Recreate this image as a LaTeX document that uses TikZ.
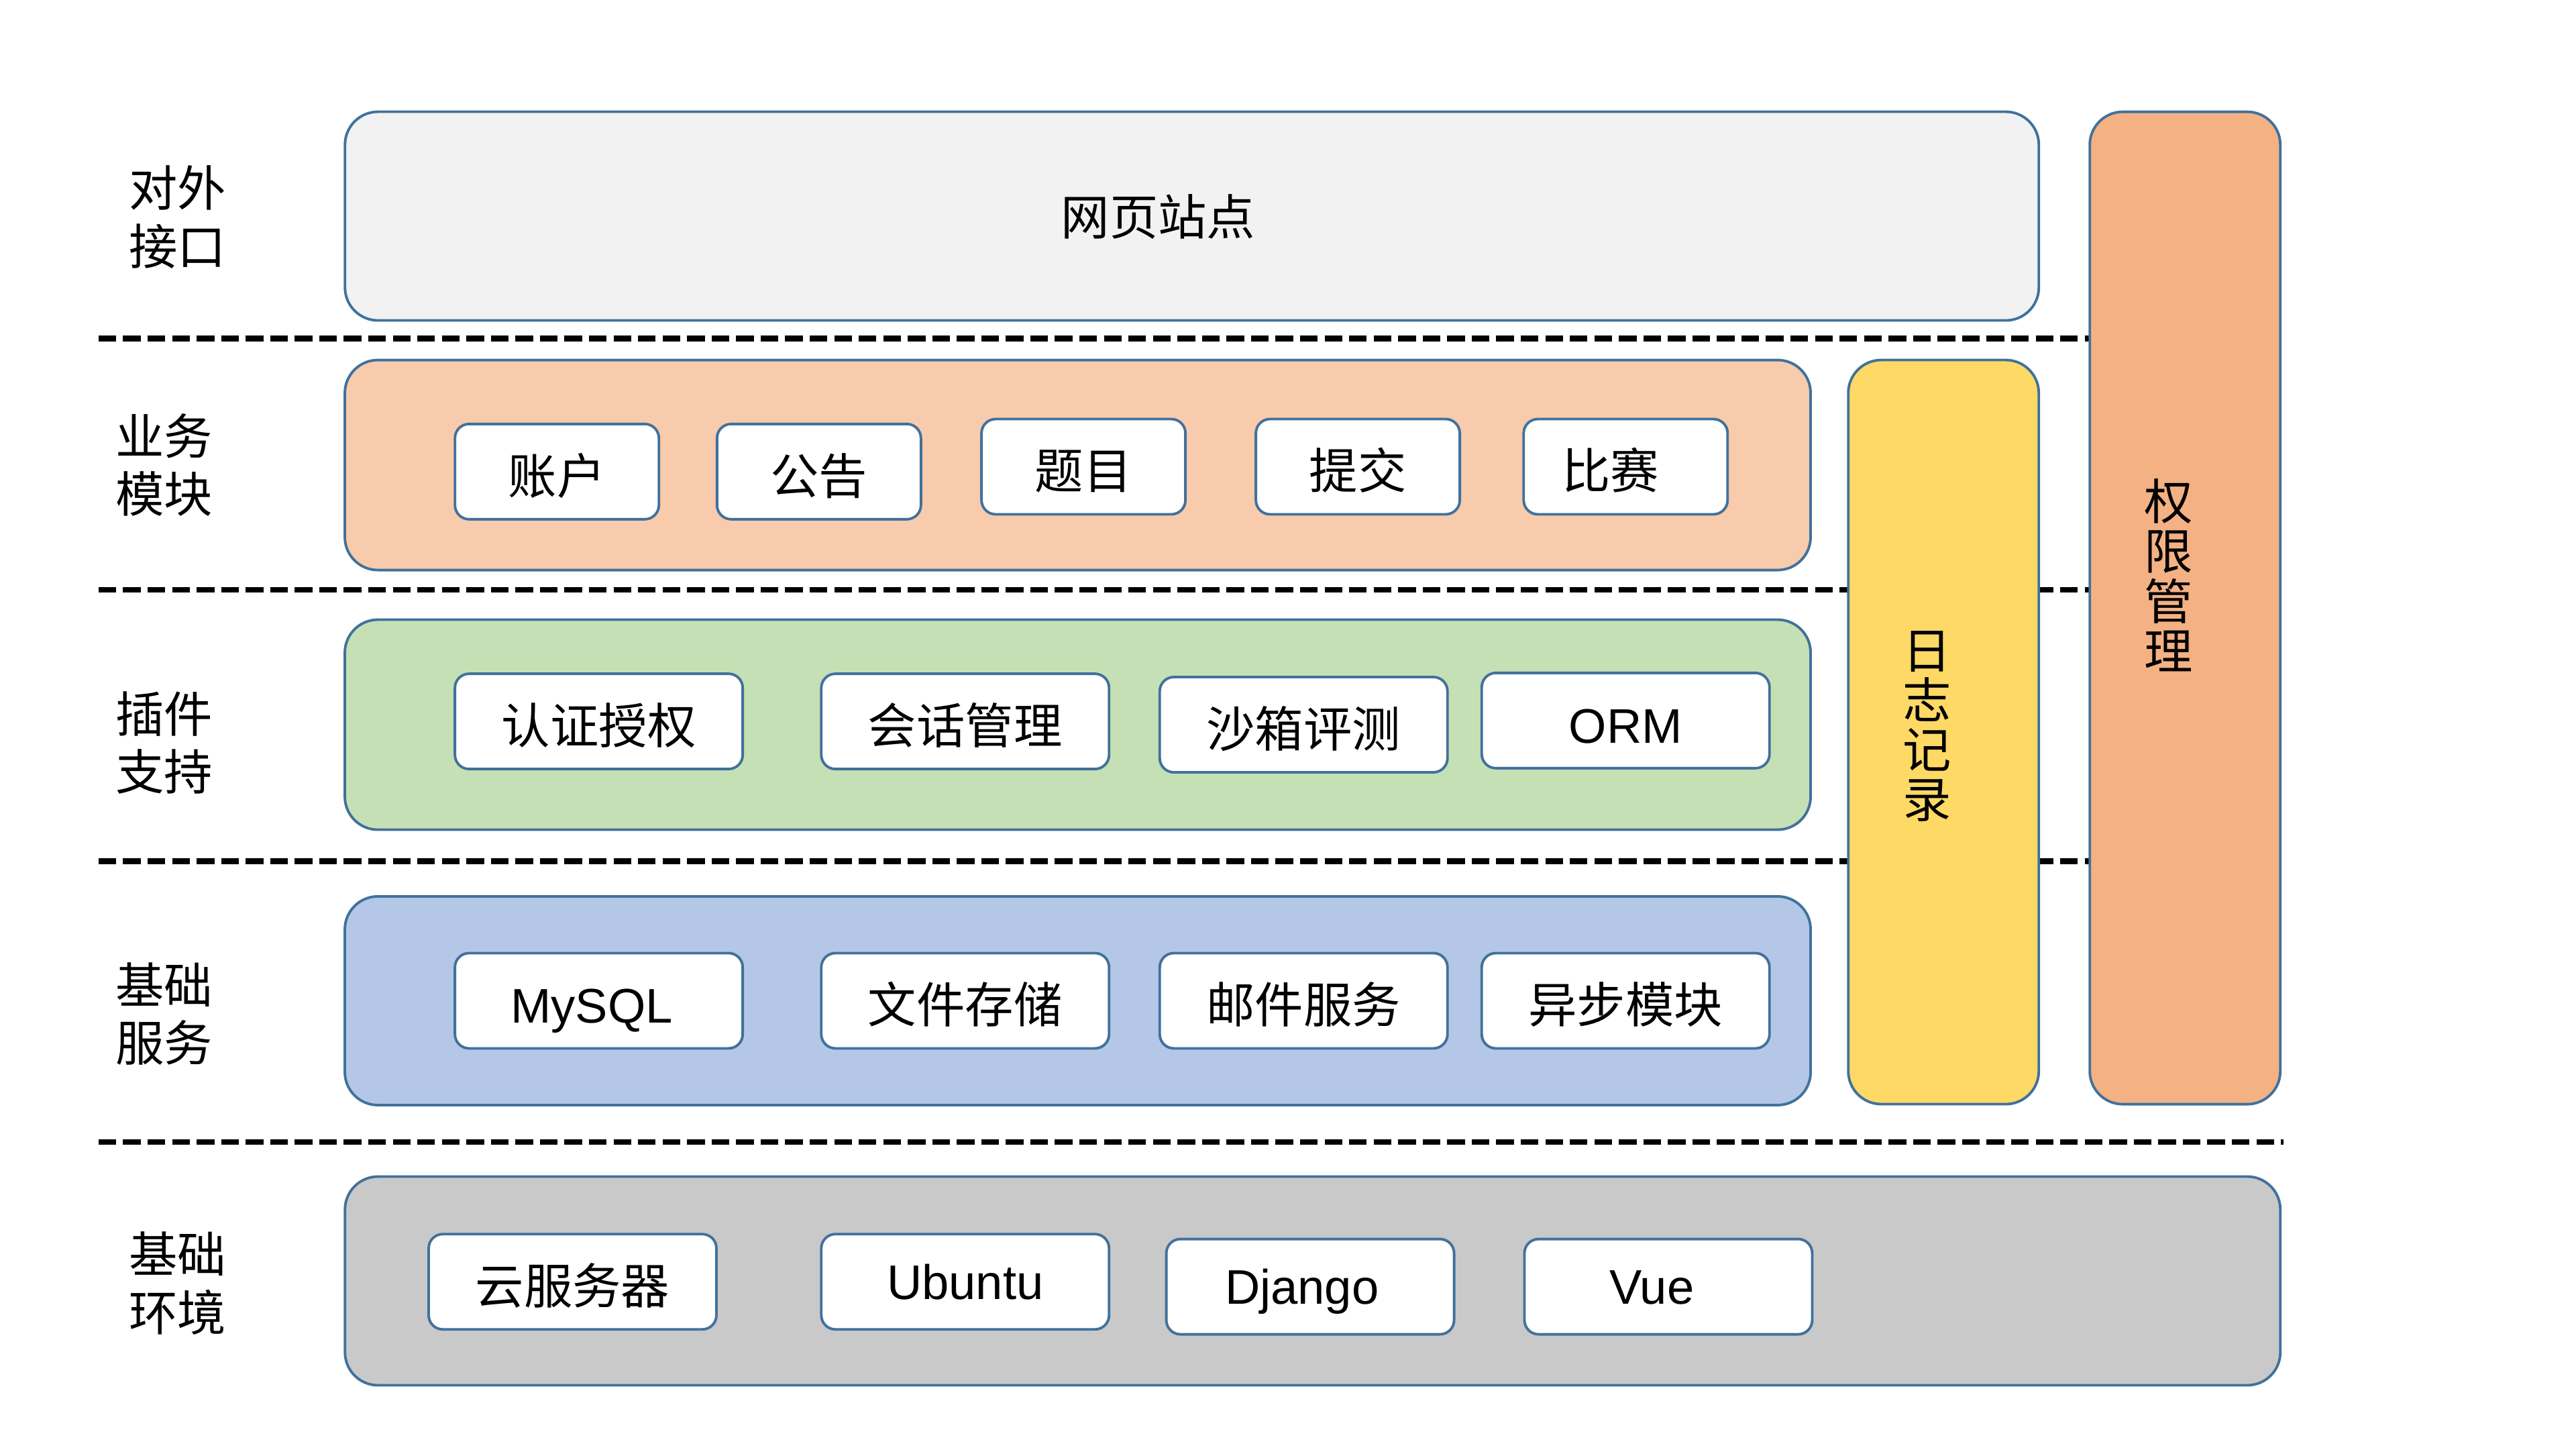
\documentclass[tikz,border=0pt]{standalone}
\usepackage{fontspec}
\setmainfont{Liberation Sans}
\newfontfamily\cjk{Noto Sans CJK SC}
\definecolor{edgeblue}{HTML}{41719C}
\definecolor{webgray}{HTML}{F2F2F2}
\definecolor{authorange}{HTML}{F4B183}
\definecolor{logyellow}{HTML}{FFD966}
\definecolor{bizpeach}{HTML}{F8CBAD}
\definecolor{pluggreen}{HTML}{C5E0B4}
\definecolor{svcblue}{HTML}{B4C7E7}
\definecolor{envgray}{HTML}{C9C9C9}
\begin{document}
\begin{tikzpicture}[x=0.02449cm, y=-0.02449cm,
  font=\fontsize{20.6}{24.7}\selectfont,
  sep/.style={line width=2.4pt, dash pattern=on 7.5pt off 2.9pt},
  layer/.style={draw=edgeblue, line width=1.1pt, rounded corners=14pt, inner sep=0pt},
  item/.style={draw=edgeblue, fill=white, line width=1.1pt, rounded corners=6pt, inner sep=0pt, minimum height=1.42cm, text height=19pt, text depth=0pt},
  shortitem/.style={item, minimum width=3.04cm},
  longitem/.style={item, minimum width=4.29cm},
  side/.style={align=center, font=\fontsize{20.6}{24.7}\selectfont\cjk}]
\useasboundingbox (0,0) rectangle (1568,882);
% separators
\draw[sep] (60,206) -- (1272,206);
\draw[sep] (60,359) -- (1272,359);
\draw[sep] (60,524) -- (1272,524);
\draw[sep] (60,695) -- (1390,695);
% left labels
\node[side] (lbl0) at (108,132){对外\\接口};
\node[side] (lbl1) at (100,283){业务\\模块};
\node[side] (lbl2) at (100,452){插件\\支持};
\node[side] (lbl3) at (100,617){基础\\服务};
\node[side] (lbl4) at (108,781){基础\\环境};
% layers
\node[layer, fill=webgray, minimum width=25.25cm, minimum height=3.11cm] (web) at (725.5,131.5){};
\node[side] (webtxt) at (705,132){网页站点};
\node[layer, fill=authorange, minimum width=2.84cm, minimum height=14.79cm] (auth) at (1330,370){};
\node[side, font=\fontsize{20.6}{21.2}\selectfont\cjk] (authtxt) at (1320,350){权\\限\\管\\理};
\node[layer, fill=logyellow, minimum width=2.84cm, minimum height=11.09cm] (log) at (1183,445.5){};
\node[side, font=\fontsize{20.6}{21}\selectfont\cjk] (logtxt) at (1173,442){日\\志\\记\\录};
\node[layer, fill=bizpeach, minimum width=21.85cm, minimum height=3.13cm] (biz) at (656,283){};
\node[layer, fill=pluggreen, minimum width=21.85cm, minimum height=3.13cm] (plug) at (656,441){};
\node[layer, fill=svcblue, minimum width=21.85cm, minimum height=3.11cm] (svc) at (656,609){};
\node[layer, fill=envgray, minimum width=28.85cm, minimum height=3.11cm] (env) at (799,779.5){};
% business modules
\node[shortitem] (biz0) at (339,287){\cjk 账户};
\node[shortitem] (biz1) at (498.5,287){\cjk 公告};
\node[shortitem] (biz2) at (659.5,284){\cjk 题目};
\node[shortitem] (biz3) at (826.5,284){\cjk 提交};
\node[shortitem] (biz4) at (989.5,284){\cjk 比赛\kern13pt};
% plugins
\node[longitem] (plug0) at (364.5,439){\cjk 认证授权};
\node[longitem] (plug1) at (587.5,439){\cjk 会话管理};
\node[longitem] (plug2) at (793.5,441){\cjk 沙箱评测};
\node[longitem] (plug3) at (989.5,438.5){ORM};
% services
\node[longitem] (svc0) at (364.5,609){MySQL\kern6pt};
\node[longitem] (svc1) at (587.5,609){\cjk 文件存储};
\node[longitem] (svc2) at (793.5,609){\cjk 邮件服务};
\node[longitem] (svc3) at (989.5,609){\cjk 异步模块};
% environment
\node[longitem] (env0) at (348.5,780){\cjk 云服务器};
\node[longitem, text height=15pt] (env1) at (587.5,780){Ubuntu};
\node[longitem, text height=15pt] (env2) at (797.5,783){Django\kern7pt};
\node[longitem, text height=15pt] (env3) at (1015.5,783){Vue\kern14pt};
\end{tikzpicture}
\end{document}
